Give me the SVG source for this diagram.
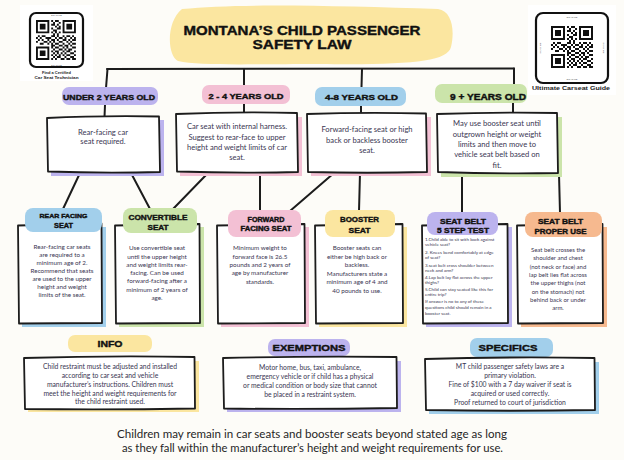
<svg xmlns="http://www.w3.org/2000/svg" xmlns:xlink="http://www.w3.org/1999/xlink" width="624" height="460" viewBox="0 0 624 460">
<style>
.bg{fill:#fdfcf8}
.bx{fill:#ffffff;stroke:#1c1c1c;stroke-width:1.8;stroke-linejoin:round}
.ln{stroke:#1c1c1c;stroke-width:2;fill:none;stroke-linecap:round}
.h{font-family:"Liberation Sans","Arial",sans-serif;font-weight:bold;fill:#111111;stroke:#111111;stroke-width:0.4;stroke-linejoin:round;text-anchor:middle}
.t{font-family:"Lato","Liberation Sans",sans-serif;fill:#3a3652;text-anchor:middle}
.tl{font-family:"Lato","Liberation Sans",sans-serif;fill:#3a3652;font-size:4.5px}
.cap{font-family:"Liberation Sans",sans-serif;font-weight:bold;fill:#222;text-anchor:middle}
.sc{font-family:"Liberation Sans",sans-serif;fill:#555;text-anchor:middle;font-size:2.4px}
.pu{fill:#bcb3ee}.pk{fill:#f3c0d4}.bl{fill:#a2cfeb}.gr{fill:#cbe4aa}.ye{fill:#fbe6a0}.or{fill:#f6b98f}
.qr{fill:#111111}
.qf{fill:none;stroke:#111;stroke-width:2.2}
</style>
<defs>
<g id="qrc">
<path class="qr" fill-rule="evenodd" d="M0 0h7v7h-7z M1 1v5h5v-5z M2 2h3v3h-3z M14 0h7v7h-7z M15 1v5h5v-5z M16 2h3v3h-3z M0 14h7v7h-7z M1 15v5h5v-5z M2 16h3v3h-3z"/>
<path class="qr" d="M8 0h1v1h-1z M10 0h2v1h-2z M9 1h1v1h-1z M12 1h1v1h-1z M8 2h2v1h-2z M11 2h1v1h-1z M10 3h1v1h-1z M12 3h1v1h-1z M8 4h1v1h-1z M11 4h2v1h-2z M9 5h2v1h-2z M8 6h1v1h-1z M10 6h1v1h-1z M12 6h1v1h-1z M9 7h1v1h-1z M11 7h1v1h-1z M1 8h1v1h-1z M3 8h2v1h-2z M8 8h2v1h-2z M11 8h1v1h-1z M14 8h1v1h-1z M16 8h2v1h-2z M19 8h1v1h-1z M0 9h1v1h-1z M2 9h1v1h-1z M5 9h3v1h-3z M10 9h1v1h-1z M12 9h2v1h-2z M15 9h1v1h-1z M18 9h1v1h-1z M20 9h1v1h-1z M1 10h1v1h-1z M3 10h1v1h-1z M6 10h1v1h-1z M8 10h2v1h-2z M11 10h1v1h-1z M14 10h2v1h-2z M17 10h1v1h-1z M19 10h2v1h-2z M0 11h1v1h-1z M4 11h2v1h-2z M7 11h1v1h-1z M9 11h1v1h-1z M12 11h2v1h-2z M16 11h1v1h-1z M18 11h1v1h-1z M2 12h2v1h-2z M6 12h1v1h-1z M8 12h1v1h-1z M10 12h2v1h-2z M14 12h1v1h-1z M17 12h1v1h-1z M19 12h2v1h-2z M8 13h2v1h-2z M12 13h2v1h-2z M15 13h2v1h-2z M18 13h1v1h-1z M8 14h1v1h-1z M10 14h2v1h-2z M14 14h1v1h-1z M16 14h1v1h-1z M19 14h2v1h-2z M9 15h1v1h-1z M12 15h2v1h-2z M15 15h1v1h-1z M17 15h2v1h-2z M8 16h1v1h-1z M10 16h2v1h-2z M14 16h1v1h-1z M16 16h2v1h-2z M20 16h1v1h-1z M9 17h1v1h-1z M11 17h1v1h-1z M13 17h1v1h-1z M15 17h1v1h-1z M18 17h2v1h-2z M8 18h1v1h-1z M10 18h1v1h-1z M12 18h1v1h-1z M14 18h1v1h-1z M16 18h2v1h-2z M20 18h1v1h-1z M9 19h1v1h-1z M11 19h2v1h-2z M15 19h1v1h-1z M18 19h2v1h-2z M8 20h1v1h-1z M10 20h1v1h-1z M13 20h2v1h-2z M16 20h2v1h-2z M19 20h2v1h-2z"/>
</g>
</defs>
<rect class="bg" x="0" y="0" width="624" height="460"/>

<g id="qr-left">
<rect x="20" y="5" width="73" height="76" fill="#ffffff"/>
<rect class="qf" x="30" y="13" width="53" height="54" rx="6"/>
<use xlink:href="#qrc" href="#qrc" transform="translate(36,20) scale(1.9)"/>
<text class="sc" x="56.5" y="15.6">SCAN ME</text>
<text class="sc" x="56.5" y="66">SCAN ME</text>
<text class="cap" x="56.5" y="73.5" font-size="4.3" textLength="29" lengthAdjust="spacingAndGlyphs">Find a Certified</text>
<text class="cap" x="56.5" y="78.5" font-size="4.3" textLength="44" lengthAdjust="spacingAndGlyphs">Car Seat Technician</text>
</g>

<g id="qr-right">
<rect x="528" y="5" width="88" height="90" fill="#ffffff"/>
<rect class="qf" x="536" y="13" width="72" height="70" rx="7"/>
<use xlink:href="#qrc" href="#qrc" transform="translate(551,26) scale(2)"/>
<text class="sc" x="572" y="17.5">SCAN ME</text>
<text class="sc" x="572" y="80">SCAN ME</text>
<text class="sc" transform="translate(541,48) rotate(-90)">SCAN ME</text>
<text class="sc" transform="translate(603,48) rotate(90)">SCAN ME</text>
<text class="cap" x="571" y="90" font-size="4.8" textLength="78" lengthAdjust="spacingAndGlyphs">Ultimate Carseat Guide</text>
</g>

<g id="title">
<path class="ye" d="M182 9 C240 3 340 6 438 9 C452 11 455 30 451 47 C447 62 410 65 320 64 C250 64 200 66 178 61 C167 55 166 22 182 9 Z"/>
<text class="h" x="302" y="34.5" font-size="13" textLength="237" lengthAdjust="spacingAndGlyphs">MONTANA’S CHILD PASSENGER</text>
<text class="h" x="302" y="49" font-size="13" textLength="99" lengthAdjust="spacingAndGlyphs">SAFETY LAW</text>
</g>

<g id="connectors">
<path class="ln" d="M107 69 L514 68.5"/>
<path class="ln" d="M107.5 69 L106 88"/>
<path class="ln" d="M244 69 L244 85"/>
<path class="ln" d="M362 69 L361.5 87"/>
<path class="ln" d="M514 68.5 L514 84"/>
<path class="ln" d="M105 105 L104.5 117"/>
<path class="ln" d="M244 104 L244 113"/>
<path class="ln" d="M361 106 L361 113"/>
<path class="ln" d="M513 103 L513 113"/>
<path class="ln" d="M80 173 L63 209"/>
<path class="ln" d="M131 173 L150 209"/>
<path class="ln" d="M208 173 L173 209"/>
<path class="ln" d="M260 173 L260 211"/>
<path class="ln" d="M334 173 L290 211"/>
<path class="ln" d="M360 173 L359 211"/>
<path class="ln" d="M462 174 L462 213"/>
<path class="ln" d="M559 174 L560 213"/>
</g>

<g id="under2">
<rect class="pu" x="62" y="87" width="96" height="18" rx="7"/>
<text class="h" x="109" y="99.5" font-size="7.6" textLength="92" lengthAdjust="spacingAndGlyphs">UNDER 2 YEARS OLD</text>
</g>
<g id="age2-4">
<rect class="pk" x="202" y="85" width="88" height="19" rx="7"/>
<text class="h" x="246" y="98.7" font-size="7.6" textLength="75" lengthAdjust="spacingAndGlyphs">2 - 4 YEARS OLD</text>
</g>
<g id="age4-8">
<rect class="bl" x="315" y="87" width="91" height="19" rx="7"/>
<text class="h" x="361.5" y="99.6" font-size="7.8" textLength="73" lengthAdjust="spacingAndGlyphs">4-8 YEARS OLD</text>
</g>
<g id="age9">
<rect class="gr" x="435" y="84" width="92" height="19" rx="7"/>
<text class="h" x="488" y="100" font-size="8.4" textLength="76" lengthAdjust="spacingAndGlyphs">9 + YEARS OLD</text>
</g>

<g id="box-under2">
<rect class="pu" x="51" y="120" width="113" height="56"/>
<path class="bx" d="M47 118 Q100 115.5 159 116.5 L160 172 Q104 173.5 48 171.5 Z"/>
<text class="t" font-size="7.6"><tspan x="103" y="134.7">Rear-facing car</tspan><tspan x="103" y="144">seat required.</tspan></text>
</g>
<g id="box-2-4">
<rect class="pk" x="180" y="117" width="122" height="59"/>
<path class="bx" d="M176 114 Q236 111.5 297 113 L298 172 Q238 173.5 177 171.5 Z"/>
<text class="t" font-size="7.6"><tspan x="237" y="129">Car seat with internal harness.</tspan><tspan x="237" y="139.5">Suggest to rear-face to upper</tspan><tspan x="237" y="149.8">height and weight limits of car</tspan><tspan x="237" y="160">seat.</tspan></text>
</g>
<g id="box-4-8">
<rect class="pk" x="311" y="117" width="120" height="59"/>
<path class="bx" d="M307 114 Q366 112 426 113.5 L427 172 Q367 173.5 308 172 Z"/>
<text class="t" font-size="7.6"><tspan x="367" y="131.7">Forward-facing seat or high</tspan><tspan x="367" y="142.5">back or backless booster</tspan><tspan x="367" y="152.7">seat.</tspan></text>
</g>
<g id="box-9">
<rect class="gr" x="441" y="117" width="121" height="60"/>
<path class="bx" d="M437 114 Q497 112 557 113 L558 173 Q498 174 438 172 Z"/>
<text class="t" font-size="7.6"><tspan x="497" y="125.7">May use booster seat until</tspan><tspan x="497" y="136.5">outgrown height or weight</tspan><tspan x="497" y="146.7">limits and then move to</tspan><tspan x="497" y="156.7">vehicle seat belt based on</tspan><tspan x="497" y="167.5">fit.</tspan></text>
</g>

<g id="rear-facing">
<rect class="bl" x="22" y="227" width="84" height="100"/>
<path class="bx" d="M18 225.5 L101.5 223.5 L102 323 L19 323.5 Z"/>
<rect class="bl" x="25" y="208" width="77" height="24" rx="8"/>
<text class="h" x="63.5" y="218.3" font-size="6.2" textLength="48" lengthAdjust="spacingAndGlyphs">REAR FACING</text>
<text class="h" x="63.5" y="228" font-size="6.6" textLength="19" lengthAdjust="spacingAndGlyphs">SEAT</text>
<text class="t" font-size="6.3"><tspan x="62" y="249.2">Rear-facing car seats</tspan><tspan x="62" y="257.2">are required to a</tspan><tspan x="62" y="265">minimum age of 2.</tspan><tspan x="62" y="272.8">Recommend that seats</tspan><tspan x="62" y="281">are used to the upper</tspan><tspan x="62" y="289">height and weight</tspan><tspan x="62" y="297">limits of the seat.</tspan></text>
</g>
<g id="convertible">
<rect class="gr" x="119" y="227" width="85" height="100"/>
<path class="bx" d="M115 225.5 L199.5 224 L200 323 L116 323.5 Z"/>
<rect class="gr" x="123" y="208" width="74" height="25" rx="8"/>
<text class="h" x="158" y="219.7" font-size="7.4" textLength="59" lengthAdjust="spacingAndGlyphs">CONVERTIBLE</text>
<text class="h" x="158" y="229.8" font-size="7.4" textLength="21" lengthAdjust="spacingAndGlyphs">SEAT</text>
<text class="t" font-size="6.3"><tspan x="157" y="250.2">Use convertible seat</tspan><tspan x="157" y="259">until the upper height</tspan><tspan x="157" y="267.2">and weight limits rear-</tspan><tspan x="157" y="275.3">facing. Can be used</tspan><tspan x="157" y="283.4">forward-facing after a</tspan><tspan x="157" y="291.5">minimum of 2 years of</tspan><tspan x="157" y="300">age.</tspan></text>
</g>
<g id="forward-facing">
<rect class="pk" x="221" y="227" width="88" height="100"/>
<path class="bx" d="M217 225.5 L304.5 224 L305 323 L218 323.5 Z"/>
<rect class="pk" x="228" y="210" width="73" height="27" rx="8"/>
<text class="h" x="266" y="221.5" font-size="6.5" textLength="37" lengthAdjust="spacingAndGlyphs">FORWARD</text>
<text class="h" x="266" y="230.6" font-size="6.5" textLength="51" lengthAdjust="spacingAndGlyphs">FACING SEAT</text>
<text class="t" font-size="6.3"><tspan x="260" y="250.2">Minimum weight to</tspan><tspan x="260" y="259">forward face is 26.5</tspan><tspan x="260" y="267.2">pounds and 2 years of</tspan><tspan x="260" y="275.3">age by manufacturer</tspan><tspan x="260" y="284">standards.</tspan></text>
</g>
<g id="booster">
<rect class="ye" x="319" y="227" width="88" height="100"/>
<path class="bx" d="M315 225.5 L402.5 224 L403 323 L316 323.5 Z"/>
<rect class="ye" x="325" y="210" width="70" height="27" rx="8"/>
<text class="h" x="359.5" y="221.8" font-size="7.4" textLength="39" lengthAdjust="spacingAndGlyphs">BOOSTER</text>
<text class="h" x="359.5" y="232.5" font-size="7.4" textLength="22" lengthAdjust="spacingAndGlyphs">SEAT</text>
<text class="t" font-size="6.3"><tspan x="357" y="250.2">Booster seats can</tspan><tspan x="357" y="259">either be high back or</tspan><tspan x="357" y="267.2">backless.</tspan><tspan x="357" y="276">Manufacturers state a</tspan><tspan x="357" y="284.2">minimum age of 4 and</tspan><tspan x="357" y="293">40 pounds to use.</tspan></text>
</g>
<g id="five-step">
<rect class="pu" x="426" y="227" width="86" height="100"/>
<path class="bx" d="M422 225.5 L507.5 224 L508 323 L423 323.5 Z"/>
<rect class="pu" x="427" y="212" width="71" height="23" rx="8"/>
<text class="h" x="463" y="223.5" font-size="7" textLength="46" lengthAdjust="spacingAndGlyphs">SEAT BELT</text>
<text class="h" x="463" y="232.5" font-size="7" textLength="52" lengthAdjust="spacingAndGlyphs">5 STEP TEST</text>
<text class="tl"><tspan x="425" y="240.6">1.Child able to sit with back against</tspan><tspan x="425" y="245.8">vehicle seat?</tspan><tspan x="425" y="253.6">2. Knees bend comfortably at edge</tspan><tspan x="425" y="258.6">of seat?</tspan><tspan x="425" y="266.6">3.seat belt cross shoulder between</tspan><tspan x="425" y="271.6">neck and arm?</tspan><tspan x="425" y="278.6">4.Lap belt lay flat across the upper</tspan><tspan x="425" y="283.6">thighs?</tspan><tspan x="425" y="290.6">5.Child can stay seated like this for</tspan><tspan x="425" y="296.4">entire trip?</tspan><tspan x="425" y="303.4">If answer is no to any of these</tspan><tspan x="425" y="308.6">questions child should remain in a</tspan><tspan x="425" y="314.6">booster seat.</tspan></text>
</g>
<g id="proper-use">
<rect class="or" x="521" y="227" width="86" height="100"/>
<path class="bx" d="M517 225.5 L602.5 224 L603 323 L518 323.5 Z"/>
<rect class="or" x="525" y="212" width="77" height="25" rx="8"/>
<text class="h" x="560.5" y="223.7" font-size="7" textLength="45" lengthAdjust="spacingAndGlyphs">SEAT BELT</text>
<text class="h" x="560.5" y="233.5" font-size="7" textLength="52" lengthAdjust="spacingAndGlyphs">PROPER USE</text>
<text class="t" font-size="6"><tspan x="558" y="252.1">Seat belt crosses the</tspan><tspan x="558" y="260.1">shoulder and chest</tspan><tspan x="558" y="269.1">(not neck or face) and</tspan><tspan x="558" y="277.1">lap belt lies flat across</tspan><tspan x="558" y="285.1">the upper thighs (not</tspan><tspan x="558" y="294.1">on the stomach) not</tspan><tspan x="558" y="302.1">behind back or under</tspan><tspan x="558" y="310.1">arm.</tspan></text>
</g>

<g id="info">
<rect class="ye" x="68" y="335" width="84" height="17" rx="7"/>
<text class="h" x="110" y="347.3" font-size="9" textLength="25" lengthAdjust="spacingAndGlyphs">INFO</text>
<rect class="ye" x="28" y="361" width="171" height="51"/>
<path class="bx" d="M24 358 Q110 355.5 194.5 357 L195 408.5 Q110 410 25 409 Z"/>
<text class="t" font-size="6.8"><tspan x="110" y="369.3">Child restraint must be adjusted and installed</tspan><tspan x="110" y="378.3">according to car seat and vehicle</tspan><tspan x="110" y="387.3">manufacturer’s instructions. Children must</tspan><tspan x="110" y="395.5">meet the height and weight requirements for</tspan><tspan x="110" y="404.3">the child restraint used.</tspan></text>
</g>
<g id="exemptions">
<rect class="pu" x="268" y="339" width="82" height="17" rx="7"/>
<text class="h" x="309" y="350.5" font-size="9" textLength="73" lengthAdjust="spacingAndGlyphs">EXEMPTIONS</text>
<rect class="pu" x="227" y="361" width="174" height="51"/>
<path class="bx" d="M223 358 Q310 356 396.5 357 L397 408 Q310 409.5 224 408.5 Z"/>
<text class="t" font-size="6.8"><tspan x="310" y="370.3">Motor home, bus, taxi, ambulance,</tspan><tspan x="310" y="379.3">emergency vehicle or if child has a physical</tspan><tspan x="310" y="388.3">or medical condition or body size that cannot</tspan><tspan x="310" y="397.3">be placed in a restraint system.</tspan></text>
</g>
<g id="specifics">
<rect class="bl" x="470" y="338" width="83" height="19" rx="7"/>
<text class="h" x="508" y="351" font-size="9" textLength="59" lengthAdjust="spacingAndGlyphs">SPECIFICS</text>
<rect class="bl" x="429" y="362" width="170" height="52"/>
<path class="bx" d="M425 359 Q510 356.5 594.5 358 L595 410 Q510 411.5 426 410 Z"/>
<text class="t" font-size="6.8"><tspan x="510" y="369.3">MT child passenger safety laws are a</tspan><tspan x="510" y="378.3">primary violation.</tspan><tspan x="510" y="387.3">Fine of $100 with a 7 day waiver if seat is</tspan><tspan x="510" y="396.3">acquired or used correctly.</tspan><tspan x="510" y="405.3">Proof returned to court of jurisdiction</tspan></text>
</g>

<g id="footer">
<text class="t" style="fill:#262626" font-size="12" x="312" y="437.5" textLength="390" lengthAdjust="spacingAndGlyphs">Children may remain in car seats and booster seats beyond stated age as long</text>
<text class="t" style="fill:#262626" font-size="12" x="312.5" y="451.5" textLength="381" lengthAdjust="spacingAndGlyphs">as they fall within the manufacturer’s height and weight requirements for use.</text>
</g>
</svg>
